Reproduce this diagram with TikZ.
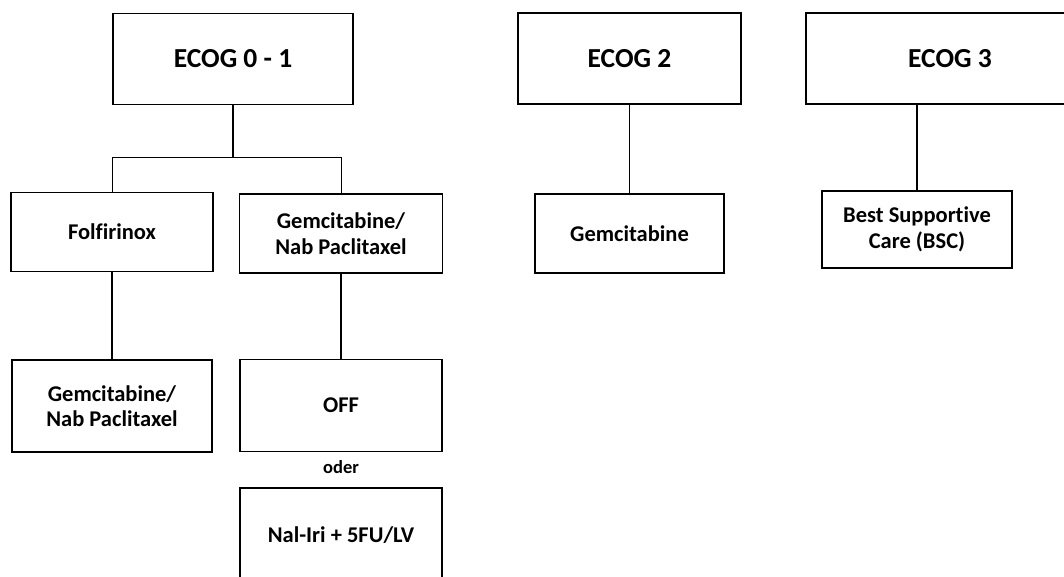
\documentclass[tikz,border=0pt]{standalone}
\usepackage{fontspec}
\setmainfont{Carlito}[Ligatures=NoCommon]
\usepackage{tikz}
\usetikzlibrary{positioning}

\begin{document}
\begin{tikzpicture}[
  x=1pt, y=-1pt,
  font=\fontsize{22.5}{25.5}\selectfont\bfseries,
  box/.style={draw, line width=1.9pt, align=center, inner sep=0pt},
  head/.style={box, font=\fontsize{27.5}{30}\selectfont\bfseries,
               minimum height=91pt},
  treat/.style={box, minimum height=79pt},
  later/.style={box, minimum height=92pt},
  link/.style={line width=1.6pt},
  branch/.style={line width=1pt}
]
\useasboundingbox (0,0) rectangle (1064,576);
\clip (0,0) rectangle (1064,576);
% ECOG rows
\node[head, minimum width=240pt] (ecogA) at (233,59) {ECOG 0 - 1};
\node[head, minimum width=223pt] (ecogB) at (629.5,58.5) {ECOG 2};
\node[head, minimum width=288pt] (ecogC) at (950,58.5) {ECOG 3};
% first line
\node[treat, minimum width=202pt] (folfi) at (112,232) {Folfirinox};
\node[treat, minimum width=203pt] (gemnab) at (341,233.5) {Gemcitabine/\\Nab Paclitaxel};
\node[treat, minimum width=189pt] (gemci) at (629.5,233.5) {Gemcitabine};
\node[treat, minimum width=190pt, minimum height=77pt] (bsc) at (917,229.5)
  {Best Supportive\\Care (BSC)};
% second line
\node[later, minimum width=200pt] (gemnabB) at (112,406) {Gemcitabine/\\Nab Paclitaxel};
\node[later, minimum width=202pt] (off) at (341,405.5) {OFF};
\node[font=\fontsize{18.5}{20}\selectfont\bfseries] (oder) at (341,467) {oder};
\node[later, minimum width=202pt, minimum height=94pt] (nal) at (341,535) {Nal-Iri + 5FU/LV};
% connectors
\draw[link] (ecogA.south) -- ++(0,52) coordinate (fork);
\draw[branch] (folfi.north) |- (fork) -| (gemnab.north);
\draw[link] (folfi) -- (gemnabB);
\draw[link] (gemnab) -- (off);
\draw[link] (ecogB) -- (gemci);
\draw[link] (bsc.north) -- (bsc.north |- ecogC.south);
\end{tikzpicture}
\end{document}
